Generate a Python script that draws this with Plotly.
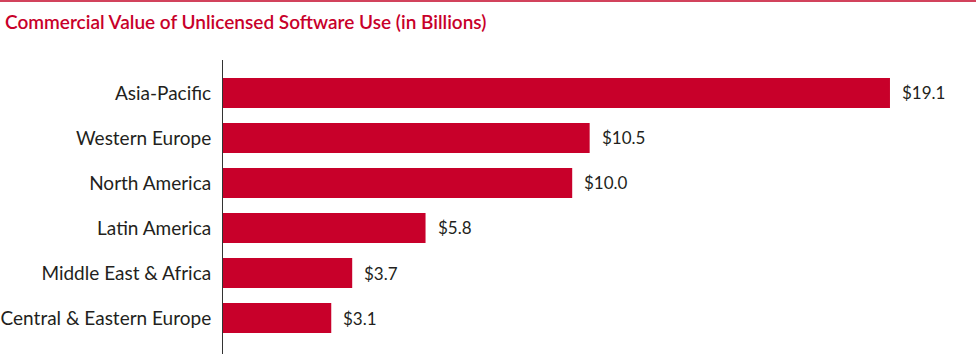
import plotly.graph_objects as go

regions = ["Asia-Pacific", "Western Europe", "North America", "Latin America",
           "Middle East & Africa", "Central & Eastern Europe"]
values = [19.1, 10.5, 10.0, 5.8, 3.7, 3.1]
value_labels = ["$19.1", "$10.5", "$10.0", "$5.8", "$3.7", "$3.1"]
title_text = "Commercial Value of Unlicensed Software Use (in Billions)"

W, H = 976, 354
L, R, T, B = 223, 20, 60, 0
BAR = "#C8002A"
TXT = "#231F20"
FONT = "Lato"

fig = go.Figure()
fig.add_trace(go.Bar(
    x=values, y=regions, orientation="h",
    marker=dict(color=BAR, line=dict(width=0)),
    width=0.667, hoverinfo="skip",
))

for r, v, lab in zip(regions, values, value_labels):
    fig.add_annotation(x=v, y=r, text=lab, showarrow=False, xanchor="left",
                       yanchor="middle", xshift=10,
                       font=dict(family=FONT, size=17, color=TXT))

pw = W - L - R
ph = H - T - B
ytop = (H - B - 1) / ph
fig.add_shape(type="line", xref="paper", yref="paper",
              x0=-L / pw, x1=(W - L) / pw, y0=ytop, y1=ytop,
              line=dict(color="#D2435C", width=2))

fig.update_layout(
    width=W, height=H,
    margin=dict(l=L, r=R, t=T, b=B, pad=0),
    paper_bgcolor="white", plot_bgcolor="white",
    showlegend=False,
    title=dict(text=title_text, xref="container", yref="container",
               x=5 / W, xanchor="left", y=1 - 22 / H, yanchor="middle",
               font=dict(family=FONT, size=19, color="#C8002A", weight=600)),
    xaxis=dict(range=[0, pw / 34.92], visible=False, fixedrange=True),
    yaxis=dict(type="category", categoryorder="array", categoryarray=regions,
               range=[5.8, -0.733], showline=True, linecolor="#333333", linewidth=1,
               ticks="", ticklabelstandoff=7, showgrid=False,
               tickfont=dict(family=FONT, size=19, color=TXT), fixedrange=True),
)

fig.write_html("out.html")
